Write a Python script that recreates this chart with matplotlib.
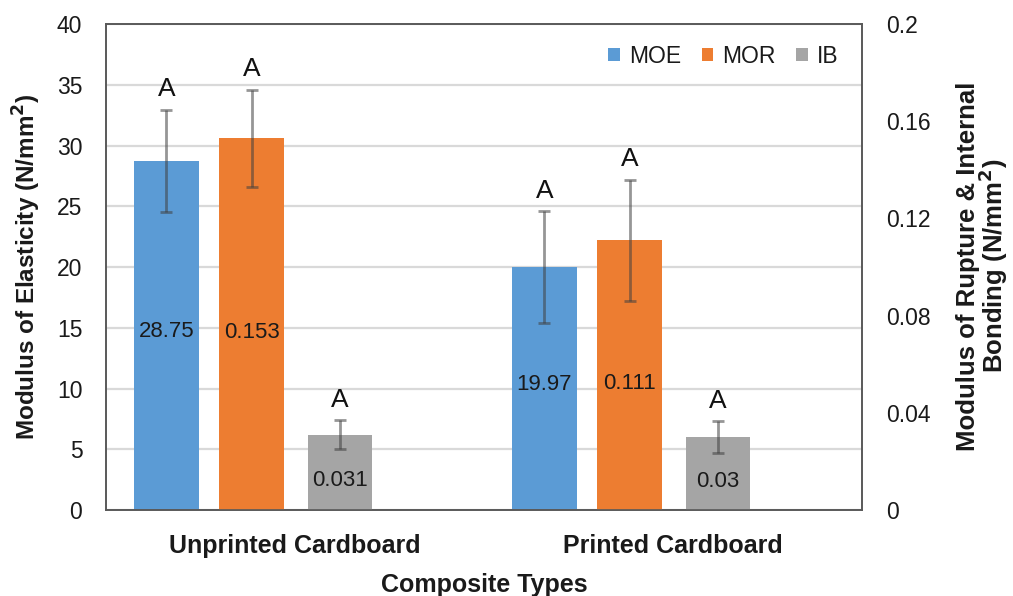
import matplotlib
matplotlib.use("Agg")
import matplotlib.pyplot as plt
import numpy as np

# Data
categories = ["Unprinted Cardboard", "Printed Cardboard"]
moe_values = [28.75, 19.97]        # N/mm^2, left axis
moe_errors = [4.2, 4.6]
mor_values = [0.153, 0.111]        # N/mm^2, right axis
mor_errors = [0.020, 0.025]
ib_values = [0.031, 0.03]          # N/mm^2, right axis
ib_errors = [0.006, 0.0065]
moe_labels = ["28.75", "19.97"]
mor_labels = ["0.153", "0.111"]
ib_labels = ["0.031", "0.03"]
group_letters = ["A", "A"]
left_ticks = [0, 5, 10, 15, 20, 25, 30, 35, 40]
right_ticks = [0, 0.04, 0.08, 0.12, 0.16, 0.2]
right_tick_labels = ["0", "0.04", "0.08", "0.12", "0.16", "0.2"]

plt.rcParams["font.family"] = ["Liberation Sans", "DejaVu Sans"]

C_MOE = "#5B9BD5"
C_MOR = "#ED7D31"
C_IB = "#A5A5A5"
GRID = "#D9D9D9"
SPINE = "#595959"
TXT = "#1a1a1a"

fig = plt.figure(figsize=(10.13, 5.96), dpi=100)
ax = fig.add_axes([0.1046, 0.1443, 0.851 - 0.1046, 0.9597 - 0.1443])
ax2 = ax.twinx()

x = np.arange(len(categories))
width = 0.17
offsets = [-0.34, -0.115, 0.119]

err_kw = dict(ecolor="#404040", elinewidth=2.0, capsize=4.5, capthick=2.0, alpha=0.55)

b_moe = ax.bar(x + offsets[0], moe_values, width, color=C_MOE, label="MOE", zorder=2,
               yerr=moe_errors, error_kw=err_kw)
b_mor = ax2.bar(x + offsets[1], mor_values, width, color=C_MOR, label="MOR", zorder=2,
                yerr=mor_errors, error_kw=err_kw)
b_ib = ax2.bar(x + offsets[2], ib_values, width, color=C_IB, label="IB", zorder=2,
               yerr=ib_errors, error_kw=err_kw)

# Axes ranges and ticks
ax.set_xlim(-0.5, 1.5)
ax.set_ylim(0, 40)
ax2.set_ylim(0, 0.2)
ax.set_yticks(left_ticks)
ax.set_yticklabels([str(t) for t in left_ticks])
ax2.set_yticks(right_ticks)
ax2.set_yticklabels(right_tick_labels)
ax.set_xticks(x)
ax.set_xticklabels(categories, fontsize=18, fontweight="bold", color=TXT)
ax.tick_params(axis="x", length=0, pad=17)
ax.tick_params(axis="y", length=0, pad=17, labelsize=16.5, labelcolor=TXT)
ax2.tick_params(axis="y", length=0, pad=17, labelsize=16.5, labelcolor=TXT)

ax.yaxis.grid(True, color=GRID, linewidth=1.6, zorder=0)
ax.set_axisbelow(True)
for a in (ax, ax2):
    for s in a.spines.values():
        s.set_color(SPINE)
        s.set_linewidth(1.2)

ax.set_ylabel("Modulus of Elasticity (N/mm$^\\mathbf{2}$)", fontsize=17.5, fontweight="bold",
              labelpad=10, color=TXT)
ax.set_xlabel("Composite Types", fontsize=18, fontweight="bold", labelpad=11, color=TXT)
fig.text(983 / 1013, 1 - 266 / 596, "Modulus of Rupture & Internal\nBonding (N/mm$^\\mathbf{2}$)",
         rotation=90, ha="center", va="center", multialignment="center",
         fontsize=18.5, fontweight="bold", color=TXT, linespacing=0.88)

# Value labels at bar centres
def centre_label(axis, xpos, value, text, dy):
    axis.annotate(text, (xpos, value / 2), xytext=(0, dy), textcoords="offset points",
                  ha="center", va="center", fontsize=16, color=TXT, zorder=5)

for i in range(len(categories)):
    centre_label(ax, x[i] + offsets[0], moe_values[i], moe_labels[i], 3)
    centre_label(ax2, x[i] + offsets[1], mor_values[i], mor_labels[i], -6)
    centre_label(ax2, x[i] + offsets[2], ib_values[i], ib_labels[i], -6)

# Group letters above error bars
def letter(axis, xpos, top, text):
    axis.annotate(text, (xpos, top), xytext=(0, 6), textcoords="offset points",
                  ha="center", va="bottom", fontsize=19, color="#111111")

for i in range(len(categories)):
    letter(ax, x[i] + offsets[0], moe_values[i] + moe_errors[i], group_letters[i])
    letter(ax2, x[i] + offsets[1], mor_values[i] + mor_errors[i], group_letters[i])
    letter(ax2, x[i] + offsets[2], ib_values[i] + ib_errors[i], group_letters[i])

handles = [b_moe, b_mor, b_ib]
ax2.legend(handles, ["MOE", "MOR", "IB"], loc="upper right", bbox_to_anchor=(0.996, 1.0),
           ncol=3, frameon=False, fontsize=16.5, handlelength=0.5, handleheight=0.5,
           handletextpad=0.4, columnspacing=0.9, labelcolor=TXT)

fig.savefig("out.png", dpi=100)
